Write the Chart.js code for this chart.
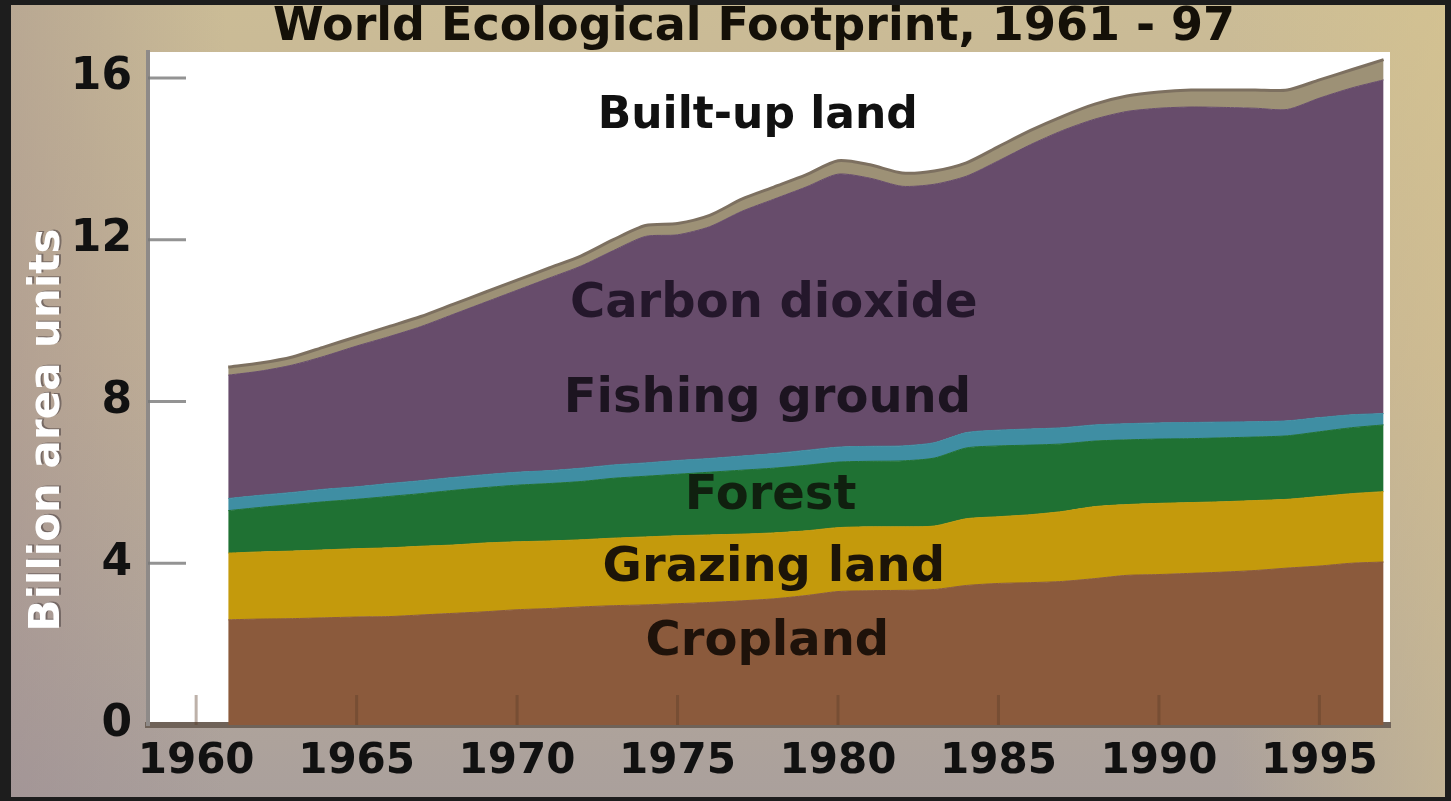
<!DOCTYPE html>
<html>
<head>
<meta charset="utf-8">
<title>World Ecological Footprint, 1961 - 97</title>
<script src="https://cdn.jsdelivr.net/npm/chart.js@4.4.1/dist/chart.umd.min.js"></script>
<style>
  html, body { margin: 0; padding: 0; background: #1d1d1d; }
  #wrap { position: absolute; left: 11px; top: 5px; width: 1434px; height: 792px; }
</style>
</head>
<body>
<div id="wrap"><canvas id="footprintChart" width="1434" height="792"></canvas></div>
<script>
// values, billion area units per year
const years = [1961, 1962, 1963, 1964, 1965, 1966, 1967, 1968, 1969, 1970,
               1971, 1972, 1973, 1974, 1975, 1976, 1977, 1978, 1979, 1980,
               1981, 1982, 1983, 1984, 1985, 1986, 1987, 1988, 1989, 1990,
               1991, 1992, 1993, 1994, 1995, 1996, 1997];

const cropland = [2.60, 2.62, 2.63, 2.65, 2.67, 2.68, 2.72, 2.76, 2.80, 2.85,
                  2.88, 2.92, 2.95, 2.97, 3.00, 3.03, 3.07, 3.12, 3.20, 3.30,
                  3.32, 3.33, 3.35, 3.45, 3.50, 3.52, 3.55, 3.62, 3.70, 3.72,
                  3.75, 3.78, 3.82, 3.88, 3.93, 4.00, 4.03];

const grazingLand = [1.65, 1.66, 1.67, 1.68, 1.69, 1.70, 1.70, 1.69, 1.70, 1.68,
                     1.67, 1.66, 1.67, 1.68, 1.68, 1.67, 1.65, 1.63, 1.60, 1.58,
                     1.58, 1.57, 1.57, 1.65, 1.65, 1.68, 1.73, 1.78, 1.75, 1.76,
                     1.75, 1.74, 1.73, 1.70, 1.72, 1.72, 1.74];

const forest = [1.05, 1.10, 1.15, 1.19, 1.22, 1.27, 1.30, 1.35, 1.37, 1.40,
                1.42, 1.44, 1.48, 1.50, 1.52, 1.55, 1.58, 1.60, 1.62, 1.62,
                1.62, 1.63, 1.68, 1.75, 1.75, 1.72, 1.67, 1.62, 1.60, 1.59,
                1.58, 1.58, 1.57, 1.57, 1.60, 1.63, 1.65];

const fishingGround = [0.30, 0.30, 0.30, 0.31, 0.31, 0.32, 0.32, 0.32, 0.32, 0.32,
                       0.32, 0.33, 0.33, 0.33, 0.34, 0.34, 0.35, 0.36, 0.37, 0.37,
                       0.37, 0.37, 0.38, 0.38, 0.39, 0.40, 0.40, 0.40, 0.40, 0.40,
                       0.40, 0.39, 0.38, 0.37, 0.35, 0.32, 0.28];

const carbonDioxide = [3.05, 3.07, 3.15, 3.29, 3.48, 3.63, 3.81, 4.03, 4.26, 4.50,
                       4.76, 5.00, 5.30, 5.60, 5.58, 5.73, 6.05, 6.29, 6.51, 6.75,
                       6.63, 6.42, 6.39, 6.34, 6.66, 7.03, 7.35, 7.56, 7.72, 7.78,
                       7.80, 7.78, 7.75, 7.70, 7.90, 8.08, 8.25];

const builtUpLand = [0.20, 0.20, 0.20, 0.23, 0.23, 0.25, 0.25, 0.25, 0.25, 0.25,
                     0.25, 0.25, 0.27, 0.27, 0.28, 0.28, 0.30, 0.30, 0.30, 0.33,
                     0.33, 0.33, 0.33, 0.33, 0.35, 0.35, 0.35, 0.37, 0.38, 0.40,
                     0.42, 0.43, 0.45, 0.48, 0.45, 0.45, 0.50];

const yTicks = [0, 4, 8, 12, 16];
const xTicks = [1960, 1965, 1970, 1975, 1980, 1985, 1990, 1995];

// band names written inside the chart, anchored in data units (year, value)
const bandLabels = [
    { text: 'Built-up land',  year: 1977.5, value: 15.05, color: '#111111', size: 44 },
    { text: 'Carbon dioxide', year: 1978.0, value: 10.40, color: '#24172b', size: 48 },
    { text: 'Fishing ground', year: 1977.8, value: 8.05,  color: '#1c1420', size: 48 },
    { text: 'Forest',         year: 1977.9, value: 5.65,  color: '#10200f', size: 48 },
    { text: 'Grazing land',   year: 1978.0, value: 3.88,  color: '#1c1408', size: 48 },
    { text: 'Cropland',       year: 1977.8, value: 2.03,  color: '#1e120a', size: 48 }
];

const FONT = '"DejaVu Sans", Verdana, sans-serif';

// textured-looking backdrop + white plot area
const backdrop = {
    id: 'backdrop',
    beforeDraw(chart) {
        const { ctx, width, height, chartArea } = chart;
        ctx.save();
        let g = ctx.createLinearGradient(0, 0, 0, height);
        g.addColorStop(0, '#cbbc96');
        g.addColorStop(0.45, '#c2b196');
        g.addColorStop(1, '#aaa09c');
        ctx.fillStyle = g;
        ctx.fillRect(0, 0, width, height);

        let side = ctx.createLinearGradient(0, 0, width, 0);
        side.addColorStop(0, 'rgba(150,130,140,0.35)');
        side.addColorStop(0.15, 'rgba(150,130,140,0.0)');
        side.addColorStop(0.85, 'rgba(220,200,140,0.0)');
        side.addColorStop(1, 'rgba(220,200,140,0.45)');
        ctx.fillStyle = side;
        ctx.fillRect(0, 0, width, height);

        ctx.fillStyle = '#ffffff';
        ctx.fillRect(chartArea.left, chartArea.top, chartArea.width, chartArea.height);
        ctx.restore();
    }
};

// short tick marks pointing into the plot, band names and the y axis title
const decorations = {
    id: 'decorations',
    afterDatasetsDraw(chart) {
        const { ctx, chartArea, scales } = chart;
        ctx.save();

        ctx.strokeStyle = 'rgba(120,120,120,0.8)';
        ctx.lineWidth = 3;
        yTicks.forEach(v => {
            if (v === 0) return;
            const y = scales.y.getPixelForValue(v);
            ctx.beginPath();
            ctx.moveTo(chartArea.left, y);
            ctx.lineTo(chartArea.left + 38, y);
            ctx.stroke();
        });
        ctx.strokeStyle = 'rgba(90,60,40,0.4)';
        xTicks.forEach(v => {
            const x = scales.x.getPixelForValue(v);
            ctx.beginPath();
            ctx.moveTo(x, chartArea.bottom);
            ctx.lineTo(x, chartArea.bottom - 30);
            ctx.stroke();
        });

        ctx.textAlign = 'center';
        ctx.textBaseline = 'middle';
        bandLabels.forEach(l => {
            ctx.font = 'bold ' + l.size + 'px ' + FONT;
            ctx.fillStyle = l.color;
            ctx.fillText(l.text, scales.x.getPixelForValue(l.year), scales.y.getPixelForValue(l.value));
        });

        ctx.translate(37, 425);
        ctx.rotate(-Math.PI / 2);
        ctx.font = 'bold 42px ' + FONT;
        ctx.fillStyle = 'rgba(80,70,70,0.6)';
        ctx.fillText('Billion area units', 1, 2);
        ctx.fillStyle = '#ffffff';
        ctx.fillText('Billion area units', 0, 0);
        ctx.restore();
    }
};

function band(label, data, color, fill) {
    return {
        label: label,
        data: data,
        backgroundColor: color,
        borderColor: color,
        borderWidth: 1,
        pointRadius: 0,
        tension: 0.25,
        fill: fill
    };
}

const ctx = document.getElementById('footprintChart').getContext('2d');

new Chart(ctx, {
    type: 'line',
    data: {
        labels: years,
        datasets: [
            band('Cropland', cropland, '#8b5a3c', 'origin'),
            band('Grazing land', grazingLand, '#c49a0c', '-1'),
            band('Forest', forest, '#1f7133', '-1'),
            band('Fishing ground', fishingGround, '#3f8ea3', '-1'),
            band('Carbon dioxide', carbonDioxide, '#674c6b', '-1'),
            Object.assign(band('Built-up land', builtUpLand, '#9d9176', '-1'),
                          { borderColor: '#7d7060', borderWidth: 3 })
        ]
    },
    options: {
        responsive: false,
        animation: false,
        devicePixelRatio: 1,
        layout: { padding: { left: 52, right: 0, top: 0, bottom: 0 } },
        plugins: {
            legend: { display: false },
            tooltip: { enabled: false },
            title: {
                display: true,
                text: 'World Ecological Footprint, 1961 - 97',
                color: '#141008',
                font: { family: FONT, size: 46, weight: 'bold', lineHeight: 1.0 },
                padding: { top: 0, bottom: 1 }
            }
        },
        scales: {
            x: {
                type: 'linear',
                min: 1958.5,
                max: 1997.2,
                afterFit: (scale) => { scale.height = 72; },
                afterBuildTicks: (scale) => { scale.ticks = xTicks.map(v => ({ value: v })); },
                grid: { drawOnChartArea: false, drawTicks: false },
                border: { display: true, color: '#6f6258', width: 6 },
                ticks: {
                    color: '#111111',
                    padding: 12,
                    maxRotation: 0,
                    autoSkip: false,
                    font: { family: FONT, size: 42, weight: 'bold' },
                    callback: (v) => String(v)
                }
            },
            y: {
                stacked: true,
                min: 0,
                max: 16.64,
                afterFit: (scale) => { scale.width = 85; },
                afterBuildTicks: (scale) => { scale.ticks = yTicks.map(v => ({ value: v })); },
                grid: { drawOnChartArea: false, drawTicks: false },
                border: { display: true, color: '#8e8a88', width: 4 },
                ticks: {
                    color: '#111111',
                    padding: 16,
                    font: { family: FONT, size: 44, weight: 'bold' }
                }
            },
            // empty right-hand axis, only keeps the plot clear of the right frame
            yPad: {
                position: 'right',
                afterFit: (scale) => { scale.width = 55; },
                grid: { display: false },
                border: { display: false },
                ticks: { display: false }
            }
        }
    },
    plugins: [backdrop, decorations]
});
</script>
</body>
</html>
